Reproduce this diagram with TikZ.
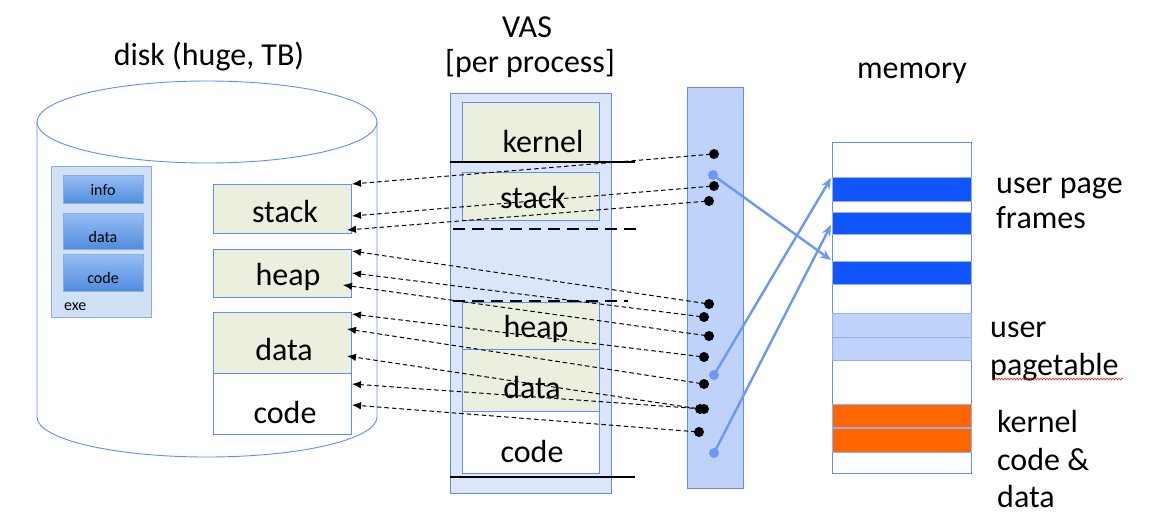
\documentclass[tikz,border=0pt]{standalone}
\usepackage{fontspec}
\setmainfont{Carlito}
\usetikzlibrary{arrows.meta,decorations.pathmorphing}
\definecolor{bordblue}{RGB}{100,140,245}
\definecolor{greenfill}{RGB}{234,239,222}
\definecolor{vasfill}{RGB}{220,230,251}
\definecolor{ptfill}{RGB}{190,210,250}
\definecolor{frameblue}{RGB}{17,85,255}
\definecolor{orangefill}{RGB}{255,102,0}
\definecolor{arrblue}{RGB}{110,150,245}
\definecolor{exefill}{RGB}{208,224,245}
\definecolor{exeborder}{RGB}{140,175,225}
\definecolor{exetop}{RGB}{150,190,245}
\definecolor{exebot}{RGB}{80,140,220}
\begin{document}
\begin{tikzpicture}[x=1pt,y=-1pt,
  big/.style={font=\fontsize{32}{38}\selectfont, anchor=base, inner sep=0pt},
  bigw/.style={font=\fontsize{32}{38}\selectfont, anchor=base west, inner sep=0pt},
  small/.style={font=\fontsize{16}{19}\selectfont, anchor=base, inner sep=0pt},
  box/.style={draw=bordblue, line width=0.9pt, anchor=north west, inner sep=0pt},
  gbox/.style={box, fill=greenfill},
  wbox/.style={box, fill=white},
  band/.style={draw=bordblue!70, line width=0.6pt, anchor=north west, inner sep=0pt, minimum width=139pt},
  exein/.style={draw=exeborder, line width=0.6pt, top color=exetop, bottom color=exebot, anchor=north west, inner sep=0pt, minimum width=80pt},
  dot/.style={circle, fill=black, inner sep=0pt, minimum size=10pt},
  bdot/.style={circle, fill=arrblue, inner sep=0pt, minimum size=10pt},
  darr/.style={dash pattern=on 4.5pt off 3pt, line width=1pt, -{Latex[length=9pt,width=7.5pt]}, shorten <=-4pt},
  barr/.style={draw=arrblue, line width=2.4pt, -{Stealth[length=11pt,width=9pt]}, shorten <=-4pt},
  thickline/.style={line width=2.6pt},
  thickdash/.style={line width=2.6pt, dash pattern=on 12pt off 7pt}
]
\useasboundingbox (0,0) rectangle (1172,515);

% ---------- disk cylinder ----------
\fill[white] (37,122) -- (37,417) arc[start angle=180, end angle=0, x radius=170, y radius=40] -- (377,122) -- cycle;
\draw[bordblue, line width=0.9pt] (37,122) -- (37,417) arc[start angle=180, end angle=0, x radius=170, y radius=40] -- (377,122);
\draw[bordblue, line width=0.9pt, fill=white] (207,122) ellipse[x radius=170, y radius=41];
\node[big] (disktitle) at (209,65) {disk (huge, TB)};

% exe
\node[draw=exeborder, line width=0.8pt, fill=exefill, anchor=north west, minimum width=100pt, minimum height=151pt, inner sep=0pt] (exe) at (51,166) {};
\node[exein, minimum height=28pt] (einfo) at (63,175) {};
\node[exein, minimum height=36pt] (edata) at (63,213) {};
\node[exein, minimum height=37pt] (ecode) at (63,254) {};
\node[small] (tinfo) at (103,195) {info};
\node[small] (tedata) at (103,242) {data};
\node[small] (tecode) at (103,283) {code};
\node[small, anchor=base west] (texe) at (64,310) {exe};

% disk segments
\node[gbox, minimum width=138pt, minimum height=49pt] (dstack) at (213,184) {};
\node[gbox, minimum width=138pt, minimum height=48pt] (dheap) at (213,249) {};
\node[gbox, minimum width=138pt, minimum height=61pt] (ddata) at (213,312) {};
\node[wbox, minimum width=138pt, minimum height=61pt] (dcode) at (213,373) {};
\node[big] (tdstack) at (285,222) {stack};
\node[big] (tdheap) at (288,285) {heap};
\node[big] (tddata) at (284,360) {data};
\node[big] (tdcode) at (285,423) {code};

% ---------- VAS ----------
\node[big] (vas1) at (527,37) {VAS};
\node[big] (vas2) at (530,72) {[per process]};
\node[box, fill=vasfill, minimum width=161pt, minimum height=400pt] (vas) at (450,93) {};
\node[gbox, minimum width=137pt, minimum height=60pt] (vkernel) at (462,102) {};
\node[gbox, minimum width=137pt, minimum height=48pt] (vstack) at (462,172) {};
\node[gbox, minimum width=137pt, minimum height=47pt] (vheap) at (462,302) {};
\node[gbox, minimum width=137pt, minimum height=62pt] (vdata) at (462,349) {};
\node[wbox, minimum width=137pt, minimum height=62pt] (vcode) at (462,411) {};
\node[big] (tvkernel) at (543,152) {kernel};
\node[big] (tvstack) at (533,208) {stack};
\node[big] (tvheap) at (536,337) {heap};
\node[big] (tvdata) at (532,398) {data};
\node[big] (tvcode) at (532,462) {code};
\draw[thickline] (450,162) -- (635,162);
\draw[thickline] (450,477) -- (635,477);
\draw[thickdash] (453,229) -- (638,229);
\draw[thickdash] (453,301) -- (628,301);

% ---------- page table column ----------
\node[box, fill=ptfill, minimum width=56pt, minimum height=401pt] (pt) at (687,87) {};

% ---------- memory ----------
\node[big] (memtitle) at (912,78) {memory};
\node[box, fill=white, minimum width=139pt, minimum height=331pt] (mem) at (832,142) {};
\node[band, fill=frameblue, minimum height=24pt] (f1) at (832,177) {};
\node[band, fill=frameblue, minimum height=22pt] (f2) at (832,212) {};
\node[band, fill=frameblue, minimum height=23pt] (f3) at (832,261) {};
\node[band, fill=ptfill, minimum height=24pt] (p1) at (832,313) {};
\node[band, fill=ptfill, minimum height=23pt] (p2) at (832,337) {};
\node[band, fill=orangefill, minimum height=23pt] (o1) at (832,404) {};
\node[band, fill=orangefill, minimum height=24pt] (o2) at (832,428) {};

\node[bigw] (lup1) at (996,193) {user page};
\node[bigw] (lup2) at (996,228) {frames};
\node[bigw] (lpt1) at (990,337) {user};
\node[bigw] (lpt2) at (990,375) {pagetable};
\draw[red, line width=0.5pt, decorate, decoration={snake, amplitude=1pt, segment length=3pt}] (lpt2.base west) ++(2,4) -- ++(131,0);
\node[bigw] (lk1) at (997,432) {kernel};
\node[bigw] (lk2) at (997,470) {code \&};
\node[bigw] (lk3) at (997,507) {data};

% ---------- dots ----------
\node[dot] (k1) at (714,154) {};
\node[dot] (k2) at (714,186) {};
\node[dot] (k3) at (709,201) {};
\node[dot] (k4) at (709,304) {};
\node[dot] (k5) at (704,317) {};
\node[dot] (k6) at (709,336) {};
\node[dot] (k7) at (704,357) {};
\node[dot] (k8) at (704,384) {};
\node[dot] (k9) at (700,409) {};
\node[dot] (k10) at (704,409) {};
\node[dot] (k11) at (699,432) {};
\node[bdot] (b1) at (713,175) {};
\node[bdot] (b2) at (714,375) {};
\node[bdot] (b3) at (714,453) {};

% arrow tips at disk segments
\coordinate (t1) at (352,184);
\coordinate (t2) at (352,216);
\coordinate (t3) at (347,230);
\coordinate (t4) at (352,251);
\coordinate (t5) at (352,273);
\coordinate (t6) at (343,285);
\coordinate (t7) at (352,314);
\coordinate (t8) at (347,329);
\coordinate (t9) at (347,356);
\coordinate (t10) at (352,384);
\coordinate (t11) at (352,405);

\draw[darr] (k1.center) -- (t1);
\draw[darr] (k2.center) -- (t2);
\draw[darr] (k3.center) -- (t3);
\draw[darr] (k4.center) -- (t4);
\draw[darr] (k5.center) -- (t5);
\draw[darr] (k6.center) -- (t6);
\draw[darr] (k7.center) -- (t7);
\draw[darr] (k8.center) -- (t8);
\draw[darr] (k9.center) -- (t9);
\draw[darr] (k10.center) -- (t10);
\draw[darr] (k11.center) -- (t11);

% blue mapping arrows
\coordinate (m1) at (831,260);
\coordinate (m2) at (831,178);
\coordinate (m3) at (831,225);
\draw[barr] (b1.center) -- (m1);
\draw[barr] (b2.center) -- (m2);
\draw[barr] (b3.center) -- (m3);
\end{tikzpicture}
\end{document}
